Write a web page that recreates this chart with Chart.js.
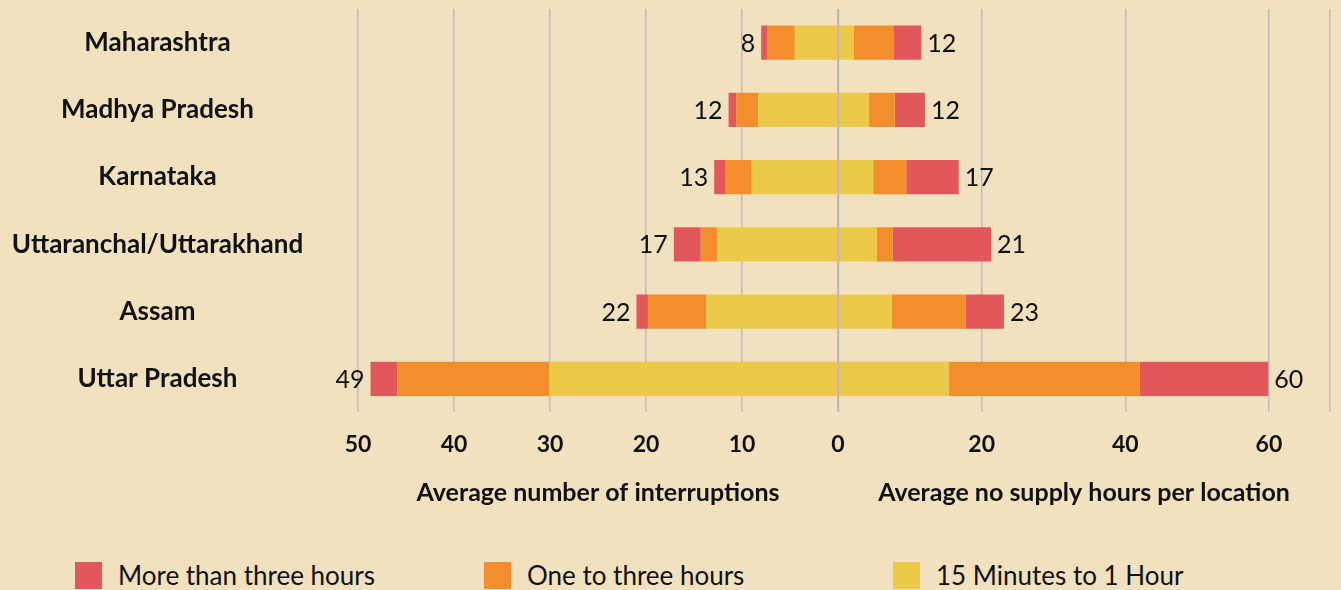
<!DOCTYPE html>
<html>
<head>
<meta charset="utf-8">
<script src="https://cdn.jsdelivr.net/npm/chart.js@4.4.1/dist/chart.umd.min.js"></script>
<style>
  html, body { margin: 0; padding: 0; background: #F2E1BE; }
  #wrap { position: relative; width: 1341px; height: 590px; overflow: hidden; }
  #chart { position: absolute; left: 0; top: 0; }
  #legend { position: absolute; left: 0; top: 562px; width: 1341px; height: 40px;
            font-family: Lato, sans-serif; font-size: 26px; color: #111; }
  .lg-item { position: absolute; top: 0; display: flex; align-items: flex-start; white-space: nowrap; }
  .lg-box { width: 27px; height: 27px; }
  .lg-text { margin-left: 16px; line-height: 27px; }
</style>
</head>
<body>
<div id="wrap">
  <canvas id="chart" width="1341" height="540"></canvas>
  <div id="legend"></div>
</div>
<script>
/* ===== Power interruptions by state (butterfly chart) ===== */

const categories = ['Maharashtra', 'Madhya Pradesh', 'Karnataka',
                    'Uttaranchal/Uttarakhand', 'Assam', 'Uttar Pradesh'];

const seriesNames  = ['More than three hours', 'One to three hours', '15 Minutes to 1 Hour'];
const seriesColors = ['#E2575A', '#F28E2C', '#ECC948'];

// left half: average number of interruptions
const intShort  = [4.5, 8.3, 9.0, 12.6, 13.7, 30.1];
const intMid    = [2.9, 2.3, 2.7, 1.7, 6.1, 15.8];
const intLong   = [0.6, 0.8, 1.2, 2.8, 1.2, 2.8];
const intTotals = [8, 12, 13, 17, 22, 49];

// right half: average no supply hours per location
const hrsShort  = [2.2, 4.3, 4.9, 5.4, 7.5, 15.4];
const hrsMid    = [5.5, 3.6, 4.6, 2.2, 10.3, 26.6];
const hrsLong   = [3.9, 4.2, 7.3, 13.7, 5.3, 17.9];
const hrsTotals = [12, 12, 17, 21, 23, 60];

const leftTicks  = [0, 10, 20, 30, 40, 50];
const rightTicks = [0, 20, 40, 60];
const rightMax   = 68.5;

const GRID = '#BBBBBB';
const INK  = '#111111';

function bar(label, data, color, axis) {
  return {
    label, data, backgroundColor: color, xAxisID: axis,
    stack: 'all', barPercentage: 1, categoryPercentage: 0.51
  };
}

// centre the state names in the 358px label column
const catFont = { family: 'Lato', size: 26, weight: 'bold' };
const mctx = document.createElement('canvas').getContext('2d');
mctx.font = 'bold 26px Lato';
const widest = Math.max(...categories.map(c => mctx.measureText(c).width));
const yPad = 358 - 157.5 - widest / 2;

const totalsPlugin = {
  id: 'totals',
  afterDatasetsDraw(chart) {
    const {ctx, chartArea} = chart;
    ctx.save();
    // zero line is drawn over the bars
    const x0 = Math.round(chart.scales.xR.getPixelForValue(0)) + 0.5;
    ctx.strokeStyle = GRID;
    ctx.lineWidth = 1.5;
    ctx.beginPath();
    ctx.moveTo(x0, chartArea.top);
    ctx.lineTo(x0, chartArea.bottom);
    ctx.stroke();

    ctx.font = '25px Lato';
    ctx.fillStyle = INK;
    ctx.textBaseline = 'middle';
    [[2, intTotals, -1], [5, hrsTotals, 1]].forEach(([idx, totals, dir]) => {
      ctx.textAlign = dir < 0 ? 'right' : 'left';
      chart.getDatasetMeta(idx).data.forEach((el, i) => {
        ctx.fillText(totals[i], el.x + dir * 6, el.y + 1);
      });
    });
    ctx.restore();
  }
};

const tickFont  = { family: 'Lato', size: 23, weight: 'bold' };
const titleFont = { family: 'Lato', size: 25, weight: 'bold' };
const gridOpts  = { color: GRID, lineWidth: 1.5, tickColor: '#ECE8DF', tickLength: 7 };
const titlePad  = { top: 9, bottom: 32 };

new Chart(document.getElementById('chart').getContext('2d'), {
  type: 'bar',
  data: {
    labels: categories,
    datasets: [
      bar(seriesNames[2], intShort, seriesColors[2], 'xL'),
      bar(seriesNames[1], intMid,   seriesColors[1], 'xL'),
      bar(seriesNames[0], intLong,  seriesColors[0], 'xL'),
      bar(seriesNames[2], hrsShort, seriesColors[2], 'xR'),
      bar(seriesNames[1], hrsMid,   seriesColors[1], 'xR'),
      bar(seriesNames[0], hrsLong,  seriesColors[0], 'xR')
    ]
  },
  options: {
    indexAxis: 'y',
    responsive: false,
    animation: false,
    layout: { padding: { top: 9, right: 7, left: 0, bottom: 0 } },
    plugins: { legend: { display: false }, tooltip: { enabled: false } },
    scales: {
      y: {
        type: 'category',
        stacked: true,
        grid: { display: false, drawTicks: false },
        border: { display: false },
        ticks: { color: INK, font: catFont, crossAlign: 'center', padding: yPad },
        afterFit(s) {
          s.width = 358;
          s.paddingTop = 0;
          s.paddingBottom = 0;
        }
      },
      xL: {
        type: 'linear', axis: 'x', position: 'bottom', reverse: true,
        min: 0, max: 50, stacked: true,
        stack: 'bottom', stackWeight: 482,
        afterBuildTicks(s) { s.ticks = leftTicks.map(v => ({ value: v })); },
        grid: gridOpts,
        border: { display: false },
        ticks: { color: INK, font: tickFont, padding: 11, maxRotation: 0, autoSkip: false,
                 callback: v => v === 0 ? '' : v },
        title: { display: true, text: 'Average number of interruptions',
                 color: INK, font: titleFont, padding: titlePad }
      },
      xR: {
        type: 'linear', axis: 'x', position: 'bottom',
        min: 0, max: rightMax, stacked: true,
        stack: 'bottom', stackWeight: 494,
        afterBuildTicks(s) { s.ticks = rightTicks.concat([rightMax]).map(v => ({ value: v })); },
        grid: gridOpts,
        border: { display: false },
        ticks: { color: INK, font: tickFont, padding: 11, maxRotation: 0, autoSkip: false,
                 callback: v => rightTicks.includes(v) ? v : '' },
        title: { display: true, text: 'Average no supply hours per location',
                 color: INK, font: titleFont, padding: titlePad }
      }
    }
  },
  plugins: [totalsPlugin]
});

// legend row
const legend = document.getElementById('legend');
seriesNames.forEach((name, i) => {
  const item = document.createElement('div');
  item.className = 'lg-item';
  item.style.left = (75 + i * 409) + 'px';
  item.innerHTML = '<div class="lg-box" style="background:' + seriesColors[i] + '"></div>' +
                   '<span class="lg-text">' + name + '</span>';
  legend.appendChild(item);
});
</script>
</body>
</html>
